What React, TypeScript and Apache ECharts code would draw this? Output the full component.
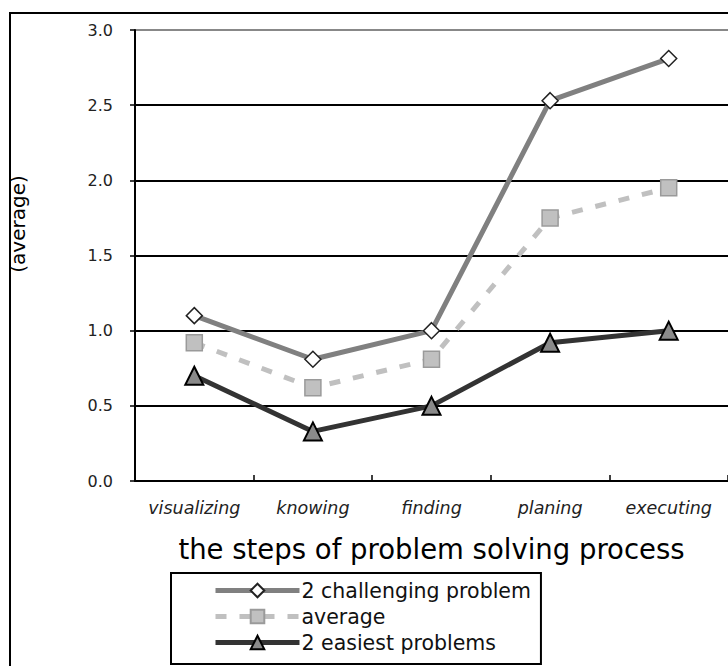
import React, { useEffect, useRef } from "react";
import * as echarts from "echarts";

const categories = ["visualizing", "knowing", "finding", "planing", "executing"];
const challenging = [1.1, 0.81, 1.0, 2.53, 2.81];
const averageVals = [0.92, 0.62, 0.81, 1.75, 1.95];
const easiest = [0.7, 0.33, 0.5, 0.92, 1.0];
const yTicks = { min: 0, max: 3, interval: 0.5 };

const FONT = "DejaVu Sans";

export default function App() {
  const ref = useRef<HTMLDivElement>(null);
  useEffect(() => {
    if (!ref.current) return;
    const chart = echarts.init(ref.current, null, { renderer: "svg" });
    chart.setOption({
      animation: false,
      backgroundColor: "#ffffff",
      textStyle: { fontFamily: FONT },
      grid: { left: 135, top: 30, width: 596, height: 451, containLabel: false },
      xAxis: {
        type: "category",
        data: categories,
        boundaryGap: true,
        axisLine: { show: true, lineStyle: { color: "#000", width: 2 } },
        axisTick: { show: true, inside: true, length: 6, interval: 0, lineStyle: { color: "#000", width: 1.5 } },
        axisLabel: {
          interval: 0,
          hideOverlap: false,
          fontStyle: "italic",
          fontSize: 17.5,
          color: "#222",
          margin: 18,
          fontFamily: FONT,
        },
        name: "the steps of problem solving process",
        nameLocation: "middle",
        nameGap: 54,
        nameTextStyle: { fontSize: 27.5, color: "#000", fontFamily: FONT, align: "center" },
        splitLine: { show: false },
      },
      yAxis: {
        type: "value",
        min: yTicks.min,
        max: yTicks.max,
        interval: yTicks.interval,
        axisLine: { show: true, lineStyle: { color: "#000", width: 2 } },
        axisTick: { show: true, length: 5, lineStyle: { color: "#000", width: 1.5 } },
        axisLabel: {
          fontSize: 16,
          color: "#222",
          margin: 22,
          fontFamily: FONT,
          formatter: (v: number) => v.toFixed(1),
        },
        splitLine: {
          show: true,
          lineStyle: { color: ["#000", "#000", "#000", "#000", "#000", "#000", "#888"], width: 2 },
        },
      },
      legend: {
        orient: "vertical",
        left: 171,
        top: 573,
        backgroundColor: "#fff",
        borderColor: "#000",
        borderWidth: 2,
        borderRadius: 0,
        padding: [7, 10, 11, 42],
        itemGap: 5,
        itemWidth: 84,
        itemHeight: 17,
        lineStyle: { width: 5 },
        textStyle: { fontSize: 20.5, color: "#111", fontFamily: FONT, padding: [0, 0, 0, -3] },
        data: ["2 challenging problem", "average", "2 easiest problems"],
      },
      graphic: [
        {
          type: "rect",
          shape: { x: 10, y: 13, width: 740, height: 680 },
          style: { fill: "none", stroke: "#000", lineWidth: 2 },
          silent: true,
          z: 100,
        },
        {
          type: "text",
          x: 18,
          y: 224,
          rotation: Math.PI / 2,
          style: {
            text: "(average)",
            fontSize: 20,
            fontFamily: FONT,
            fill: "#000",
            align: "center",
            verticalAlign: "middle",
          },
        },
      ],
      series: [
        {
          name: "average",
          type: "line",
          data: averageVals,
          symbol: "rect",
          symbolSize: 16,
          lineStyle: { color: "#c0c0c0", width: 5, type: [11, 13] },
          itemStyle: { color: "#c0c0c0", borderColor: "#9a9a9a", borderWidth: 1.5 },
          z: 3,
        },
        {
          name: "2 challenging problem",
          type: "line",
          data: challenging,
          symbol: "diamond",
          symbolSize: 16,
          lineStyle: { color: "#808080", width: 5 },
          itemStyle: { color: "#fff", borderColor: "#222", borderWidth: 1.5 },
          z: 4,
        },
        {
          name: "2 easiest problems",
          type: "line",
          data: easiest,
          symbol: "triangle",
          symbolSize: 18,
          lineStyle: { color: "#333", width: 5 },
          itemStyle: { color: "#8a8a8a", borderColor: "#000", borderWidth: 2 },
          z: 5,
        },
      ],
    });
    return () => chart.dispose();
  }, []);
  return (
    <div
      ref={ref}
      style={{ position: "fixed", left: 0, top: 0, width: 728, height: 666, background: "#fff" }}
    />
  );
}
